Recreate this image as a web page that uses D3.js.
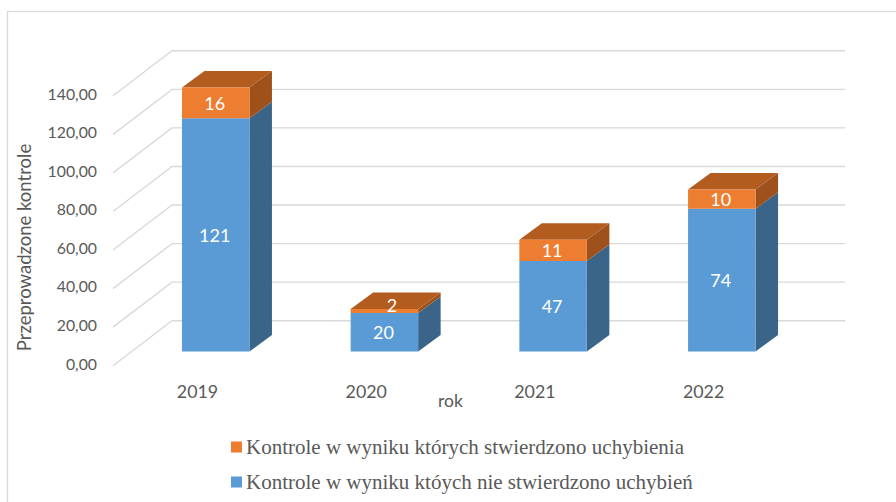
<!DOCTYPE html>
<html><head><meta charset="utf-8">
<script src="https://cdn.jsdelivr.net/npm/d3@7/dist/d3.min.js"></script>
<style>html,body{margin:0;padding:0;background:#fff}svg{display:block}</style>
</head><body><svg id="c" width="896" height="502"></svg>
<script>
const years=["2019","2020","2021","2022"];
const withoutFindings=[121,20,47,74];
const withFindings=[16,2,11,10];
const yTicks=[0,20,40,60,80,100,120,140];
const legendLabels=["Kontrole w wyniku których stwierdzono uchybienia","Kontrole w wyniku któych nie stwierdzono uchybień"];
const yTitle="Przeprowadzone kontrole", xTitle="rok";

const svg=d3.select("#c");
const grey="#595959", gridC="#d9d9d9";
const fmt=v=>v.toFixed(2).replace(".",",");
const x=d3.scalePoint().domain(years).range([215.7,721.8]);
const bw=67.5;
const y=d3.scaleLinear().domain([0,140]).range([351.5,81.6]);
const depth={dx:22.5,dy:-16.5};
const wall={dx:-10,dy:-30.8}, floorFront={dx:-69,dy:14.2};
const wallL=182, wallR=845;

svg.append("rect").attr("x",7.5).attr("y",11.5).attr("width",900).attr("height",520).attr("fill","#fff").attr("stroke",gridC).attr("stroke-width",1.3);

const grid=svg.append("g").attr("fill","none").attr("stroke",gridC).attr("stroke-width",1.4);
yTicks.forEach(t=>{
  const yw=y(t)+wall.dy;
  grid.append("path").attr("d",d3.line()([[wallL+floorFront.dx,y(t)+floorFront.dy],[wallL+wall.dx,yw],[wallR,yw]]));
});
svg.append("g").selectAll("text").data(yTicks).join("text")
  .attr("x",97).attr("y",t=>y(t)+11.5+6.5).attr("text-anchor","end")
  .attr("font-family","Lato").attr("font-size",15.8).attr("fill",grey).text(fmt);

function box(g,left,yBot,yTop,front,top,side,showTop){
  const r=left+bw;
  const poly=pts=>g.append("polygon").attr("points",pts.map(p=>p.join(",")).join(" "));
  poly([[r,yBot],[r+depth.dx,yBot+depth.dy],[r+depth.dx,yTop+depth.dy],[r,yTop]]).attr("fill",side);
  if(showTop) poly([[left,yTop],[left+depth.dx,yTop+depth.dy],[r+depth.dx,yTop+depth.dy],[r,yTop]]).attr("fill",top);
  poly([[left,yBot],[r,yBot],[r,yTop],[left,yTop]]).attr("fill",front);
}
const bars=svg.append("g");
years.forEach((yr,i)=>{
  const l=x(yr)-bw/2, a=withoutFindings[i], b=withFindings[i];
  box(bars,l,y(0),y(a),"#5b9bd5","#5b9bd5","#3a6488",false);
  box(bars,l,y(a),y(a+b),"#ed7d31","#b35c1f","#9e511b",true);
});
const lab=svg.append("g").attr("font-family","Lato").attr("font-size",18).attr("fill","#fff").attr("text-anchor","middle");
years.forEach((yr,i)=>{
  const a=withoutFindings[i], b=withFindings[i];
  lab.append("text").attr("x",x(yr)-1).attr("y",(y(0)+y(a))/2+7).text(a);
  lab.append("text").attr("x",x(yr)+(b<5?7.5:-1)).attr("y",b<5?311.5:(y(a)+y(a+b))/2+7).text(b);
});
svg.append("g").selectAll("text").data(years).join("text")
  .attr("x",d=>x(d)-18.2).attr("y",398).attr("text-anchor","middle")
  .attr("font-family","Lato").attr("font-size",17.8).attr("fill",grey).text(d=>d);
svg.append("text").attr("x",450.5).attr("y",407).attr("text-anchor","middle")
  .attr("font-family","Lato").attr("font-size",17.5).attr("fill",grey).text(xTitle);
svg.append("text").attr("transform","translate(30.5,247.5) rotate(-90)").attr("text-anchor","middle")
  .attr("font-family","Lato").attr("font-size",18.5).attr("fill",grey).text(yTitle);
const legendColors=["#ed7d31","#5b9bd5"];
legendLabels.forEach((t,i)=>{
  const ly=447+35*i;
  svg.append("rect").attr("x",231).attr("y",ly-5.5).attr("width",11).attr("height",11).attr("fill",legendColors[i]);
  svg.append("text").attr("x",246).attr("y",ly+7).attr("font-family","Liberation Serif").attr("font-size",21).attr("fill",grey).text(t);
});
</script></body></html>
